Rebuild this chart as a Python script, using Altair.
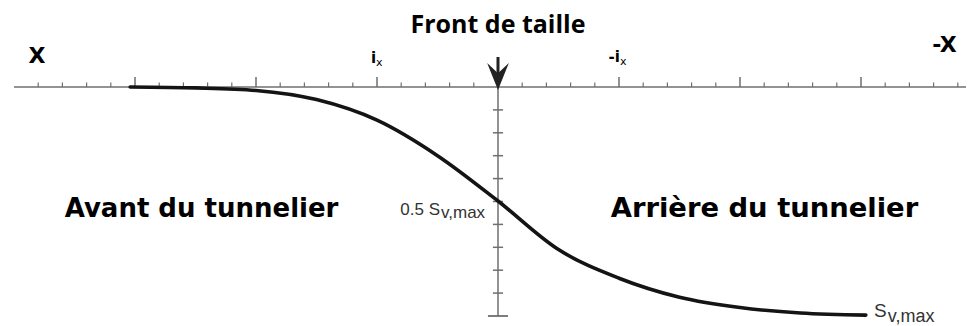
import altair as alt
import pandas as pd

# ---- data ----
# position along the tunnel axis (in units of i_x), positive towards -X
curve_u = [-3.04, -2.5, -2.0, -1.5, -1.0, -0.5, 0.0, 0.5, 1.0, 1.5, 2.0, 2.5, 3.04]
# settlement as a fraction of S_v,max (downwards)
curve_s = [0.0, 0.004, 0.015, 0.055, 0.145, 0.30, 0.498, 0.71, 0.835, 0.918, 0.963, 0.987, 0.996]

major_ticks = [-3, -2, -1, 1, 2, 3]
minor_ticks = [round(k * 0.2, 1) for k in range(-19, 20) if k % 5 != 0]
v_ticks = [0.1, 0.2, 0.3, 0.4, 0.5, 0.6, 0.7, 0.8, 0.9]

W, H = 958, 318
xs = alt.Scale(domain=[-4.0496, 3.8678], nice=False, zero=False)
ys = alt.Scale(domain=[-0.345, 1.0437], nice=False, zero=False, reverse=True)

AX = "#6f6f6f"


def X(f="u"):
    return alt.X(f"{f}:Q", scale=xs, axis=None)


def Y(f="s"):
    return alt.Y(f"{f}:Q", scale=ys, axis=None)


# axes drawn as rules
h_axis = alt.Chart(pd.DataFrame({"u": [-4.0], "u2": [3.8678], "s": [0.0]})).mark_rule(
    color=AX, strokeWidth=1.5).encode(x=X(), x2="u2:Q", y=Y())
v_axis = alt.Chart(pd.DataFrame({"u": [0.0], "s": [0.0], "s2": [1.0]})).mark_rule(
    color=AX, strokeWidth=1.5).encode(x=X(), y=Y(), y2="s2:Q")

minor = alt.Chart(pd.DataFrame({"u": minor_ticks, "s": 0.0, "s2": -0.02})).mark_rule(
    color=AX, strokeWidth=1.2).encode(x=X(), y=Y(), y2="s2:Q")
major = alt.Chart(pd.DataFrame({"u": major_ticks, "s": 0.0, "s2": -0.044})).mark_rule(
    color=AX, strokeWidth=1.5).encode(x=X(), y=Y(), y2="s2:Q")
vt = alt.Chart(pd.DataFrame({"s": v_ticks, "u": -0.042, "u2": 0.042})).mark_rule(
    color=AX, strokeWidth=1.5).encode(x=X(), x2="u2:Q", y=Y())
vbottom = alt.Chart(pd.DataFrame({"s": [1.0], "u": -0.083, "u2": 0.083})).mark_rule(
    color=AX, strokeWidth=1.8).encode(x=X(), x2="u2:Q", y=Y())

# arrow at the tunnel face
shaft = alt.Chart(pd.DataFrame({"u": [0.0], "s": [-0.131], "s2": [-0.04]})).mark_rule(
    color="#222", strokeWidth=3).encode(x=X(), y=Y(), y2="s2:Q")
head = alt.Chart(pd.DataFrame({"u": [0.0], "s": [-0.046]})).mark_point(
    shape="M-1,-1.24L0,1.24L1,-1.24L0,-0.3Z", size=470, filled=True, color="#222",
    opacity=1).encode(x=X(), y=Y())

curve = alt.Chart(pd.DataFrame({"u": curve_u, "s": curve_s})).mark_line(
    color="#141414", strokeWidth=3.6, interpolate="monotone", strokeCap="round").encode(
    x=X(), y=Y(), order="u:Q")


def txt(t, u, s, size, font, weight="normal", align="center", color="#000"):
    return alt.Chart(pd.DataFrame({"t": [t], "u": [u], "s": [s]})).mark_text(
        text=t, font=font, fontSize=size, fontWeight=weight, align=align,
        baseline="alphabetic", color=color).encode(x=X(), y=Y())


texts = [
    txt("Front de taille", 0.0, -0.236, 25, "Open Sans", "bold"),
    txt("X", -3.81, -0.105, 22, "DejaVu Sans", "bold"),
    txt("-X", 3.69, -0.153, 22, "DejaVu Sans", "bold"),
    txt("i", -1.008, -0.105, 15, "DejaVu Sans", "bold", "right"),
    txt("x", -1.008, -0.092, 11, "DejaVu Sans", "normal", "left"),
    txt("-i", 1.008, -0.109, 15, "DejaVu Sans", "bold", "right"),
    txt("x", 1.008, -0.096, 11, "DejaVu Sans", "normal", "left"),
    txt("Avant du tunnelier", -2.45, 0.568, 26, "DejaVu Sans", "bold"),
    txt("Arrière du tunnelier", 2.202, 0.568, 27.4, "DejaVu Sans", "bold"),
    txt("0.5 S", -0.479, 0.559, 17, "Liberation Sans", "normal", "right", "#333"),
    txt("v,max", -0.471, 0.572, 17, "Liberation Sans", "normal", "left", "#333"),
    txt("S", 3.107, 1.005, 19, "Liberation Sans", "normal", "left", "#333"),
    txt("v,max", 3.222, 1.025, 18, "Liberation Sans", "normal", "left", "#333"),
]

chart = alt.layer(h_axis, v_axis, minor, major, vt, vbottom, curve, shaft, head, *texts).properties(
    width=W, height=H, padding=0, autosize="none", background="white"
).configure_view(stroke=None)

chart.save("out.html", embed_options={"renderer": "svg", "actions": False})
